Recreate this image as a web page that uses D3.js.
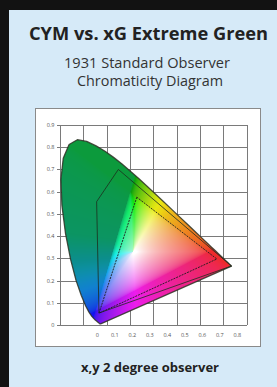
<!DOCTYPE html>
<html lang="en">
<head>
<meta charset="utf-8">
<title>CYM vs. xG Extreme Green</title>
<script src="https://cdn.jsdelivr.net/npm/d3@7/dist/d3.min.js"></script>
<style>
    body { margin: 0; background: #121212; }
    svg { display: block; }
    .title { font-family: "Open Sans", sans-serif; font-weight: bold; fill: #222; }
    .sub { font-family: "Open Sans", sans-serif; fill: #333; }
    .tick-label { font-family: "Open Sans", sans-serif; font-size: 5.5px; fill: #555; }
    .grid line { stroke: #7a7a7a; stroke-width: 1; shape-rendering: crispEdges; }
</style>
</head>
<body>
<div id="chart"></div>
<script>

// axis ticks
var xTicks = [0, 0.1, 0.2, 0.3, 0.4, 0.5, 0.6, 0.7, 0.8];
var yTicks = [0, 0.1, 0.2, 0.3, 0.4, 0.5, 0.6, 0.7, 0.8, 0.9];

// CIE 1931 2 degree spectral locus, 380-700nm in 5nm steps
var locusX = [0.1741, 0.1740, 0.1738, 0.1736, 0.1733, 0.1730, 0.1726, 0.1721, 0.1714, 0.1703,
    0.1689, 0.1669, 0.1644, 0.1611, 0.1566, 0.1510, 0.1440, 0.1355, 0.1241, 0.1096,
    0.0913, 0.0687, 0.0454, 0.0235, 0.0082, 0.0039, 0.0139, 0.0389, 0.0743, 0.1142,
    0.1547, 0.1929, 0.2296, 0.2658, 0.3016, 0.3373, 0.3731, 0.4087, 0.4441, 0.4788,
    0.5125, 0.5448, 0.5752, 0.6029, 0.6270, 0.6482, 0.6658, 0.6801, 0.6915, 0.7006,
    0.7079, 0.7140, 0.7190, 0.7230, 0.7260, 0.7283, 0.7300, 0.7311, 0.7320, 0.7327,
    0.7334, 0.7340, 0.7344, 0.7346, 0.7347];
var locusY = [0.0050, 0.0050, 0.0049, 0.0049, 0.0048, 0.0048, 0.0048, 0.0048, 0.0051, 0.0058,
    0.0069, 0.0086, 0.0109, 0.0138, 0.0177, 0.0227, 0.0297, 0.0399, 0.0578, 0.0868,
    0.1327, 0.2007, 0.2950, 0.4127, 0.5384, 0.6548, 0.7502, 0.8120, 0.8338, 0.8262,
    0.8059, 0.7816, 0.7543, 0.7243, 0.6923, 0.6589, 0.6245, 0.5896, 0.5547, 0.5202,
    0.4866, 0.4544, 0.4242, 0.3965, 0.3725, 0.3514, 0.3340, 0.3197, 0.3083, 0.2993,
    0.2920, 0.2859, 0.2809, 0.2770, 0.2740, 0.2717, 0.2700, 0.2689, 0.2680, 0.2673,
    0.2666, 0.2660, 0.2656, 0.2654, 0.2653];

// xG extreme green gamut (solid) and CYM gamut (dashed)
var xgX = [0.250, 0.157, 0.167, 0.7347];
var xgY = [0.700, 0.555, 0.054, 0.2653];
var cymX = [0.329, 0.167, 0.672];
var cymY = [0.575, 0.053, 0.297];

var W = 277, H = 387;

var svg = d3.select("#chart").append("svg")
    .attr("width", W)
    .attr("height", H);

// light blue panel
svg.append("rect")
    .attr("x", 9).attr("y", 10)
    .attr("width", W - 9).attr("height", H - 10)
    .attr("fill", "#d6eaf8");

function addText(cls, tx, ty, size, len, str) {
    svg.append("text").attr("class", cls)
        .attr("x", tx).attr("y", ty)
        .attr("text-anchor", "middle")
        .attr("textLength", len)
        .attr("lengthAdjust", "spacingAndGlyphs")
        .style("font-size", size + "px")
        .text(str);
}

addText("title", 148.5, 40, 18, 239, "CYM vs. xG Extreme Green");
addText("sub", 147, 68, 14, 166, "1931 Standard Observer");
addText("sub", 150, 86, 14, 146, "Chromaticity Diagram");
addText("title", 150, 372, 13, 138, "x,y 2 degree observer");

// white chart box
svg.append("rect")
    .attr("x", 35.5).attr("y", 108.5)
    .attr("width", 225).attr("height", 238)
    .attr("fill", "#fff")
    .attr("stroke", "#8a8a8a")
    .attr("stroke-width", 1);

var x = d3.scaleLinear().domain([0, 0.8]).range([60, 246.7]);
var y = d3.scaleLinear().domain([0, 0.9]).range([325, 125]);
// the x labels in the original sit off the grid
var xLab = d3.scaleLinear().domain([0, 0.8]).range([97.3, 237.3]);

// grid
var grid = svg.append("g").attr("class", "grid");
grid.selectAll(".vl").data(xTicks).enter().append("line")
    .attr("x1", function (d) { return Math.round(x(d)) + 0.5; })
    .attr("x2", function (d) { return Math.round(x(d)) + 0.5; })
    .attr("y1", y(0.9)).attr("y2", y(0));
grid.selectAll(".hl").data(yTicks).enter().append("line")
    .attr("y1", function (d) { return Math.round(y(d)) + 0.5; })
    .attr("y2", function (d) { return Math.round(y(d)) + 0.5; })
    .attr("x1", x(0) - 3).attr("x2", x(0.8));

// y labels
svg.append("g").selectAll("text").data(yTicks).enter().append("text")
    .attr("class", "tick-label")
    .attr("x", 54.5)
    .attr("y", function (d) { return y(d) + 2; })
    .attr("text-anchor", "end")
    .text(function (d) { return d === 0 ? "0" : d3.format(".1f")(d); });

// x labels
svg.append("g").selectAll("text").data(xTicks).enter().append("text")
    .attr("class", "tick-label")
    .attr("x", function (d) { return xLab(d); })
    .attr("y", 336.5)
    .attr("text-anchor", "middle")
    .text(function (d) { return d === 0 ? "0" : d3.format(".1f")(d); });

// colour field
var lightByHue = d3.scaleLinear()
    .domain([0, 40, 60, 90, 120, 150, 180, 205, 240, 300, 360])
    .range([0.55, 0.52, 0.49, 0.42, 0.34, 0.32, 0.30, 0.44, 0.50, 0.52, 0.55]);
var hueMap = d3.scaleLinear()
    .domain([0, 70, 100, 120, 170, 200, 360])
    .range([0, 65, 105, 140, 158, 200, 360]);

function gam(v) {
    return v <= 0.0031308 ? 12.92 * v : 1.055 * Math.pow(v, 1 / 2.4) - 0.055;
}

function chromaColor(cx, cy) {
    var cz = 1 - cx - cy;
    var r = 3.2406 * cx - 1.5372 * cy - 0.4986 * cz;
    var g = -0.9689 * cx + 1.8758 * cy + 0.0415 * cz;
    var b = 0.0557 * cx - 0.2040 * cy + 1.0570 * cz;
    r = Math.max(r, 0); g = Math.max(g, 0); b = Math.max(b, 0);
    var m = Math.max(r, g, b) || 1;
    var c = d3.hsl(d3.rgb(gam(r / m) * 255, gam(g / m) * 255, gam(b / m) * 255));
    if (isNaN(c.h)) return c.rgb();
    var s = c.s;
    c.h = hueMap(c.h);
    c.l = c.l - s * (0.5 - lightByHue(c.h));
    c.s = s * 0.85;
    return c.rgb();
}

var x0 = 58, y0 = 135, cw = 178, ch = 193;
var canvas = document.createElement("canvas");
canvas.width = cw; canvas.height = ch;
var ctx = canvas.getContext("2d");
var img = ctx.createImageData(cw, ch);
for (var j = 0; j < ch; j++) {
    for (var i = 0; i < cw; i++) {
        var c = chromaColor(x.invert(x0 + i + 0.5), y.invert(y0 + j + 0.5));
        var k = (j * cw + i) * 4;
        img.data[k] = c.r; img.data[k + 1] = c.g; img.data[k + 2] = c.b; img.data[k + 3] = 255;
    }
}
ctx.putImageData(img, 0, 0);

var locus = locusX.map(function (d, i) { return [x(d), y(locusY[i])]; });
var locusLine = d3.line().curve(d3.curveLinearClosed);

svg.append("clipPath").attr("id", "locus-clip")
    .append("path").attr("d", locusLine(locus));

svg.append("image")
    .attr("x", x0).attr("y", y0)
    .attr("width", cw).attr("height", ch)
    .attr("href", canvas.toDataURL())
    .attr("clip-path", "url(#locus-clip)");

svg.append("path")
    .attr("d", locusLine(locus))
    .attr("fill", "none")
    .attr("stroke", "#2d3325")
    .attr("stroke-opacity", 0.85)
    .attr("stroke-width", 1.3)
    .attr("stroke-linejoin", "round");

var polyLine = d3.line().curve(d3.curveLinearClosed);

svg.append("path")
    .attr("d", polyLine(xgX.map(function (d, i) { return [x(d), y(xgY[i])]; })))
    .attr("fill", "none")
    .attr("stroke", "#1d2d1d")
    .attr("stroke-width", 0.8);

svg.append("path")
    .attr("d", polyLine(cymX.map(function (d, i) { return [x(d), y(cymY[i])]; })))
    .attr("fill", "none")
    .attr("stroke", "#1d1d1d")
    .attr("stroke-width", 0.9)
    .attr("stroke-dasharray", "2,1");

</script>
</body>
</html>
